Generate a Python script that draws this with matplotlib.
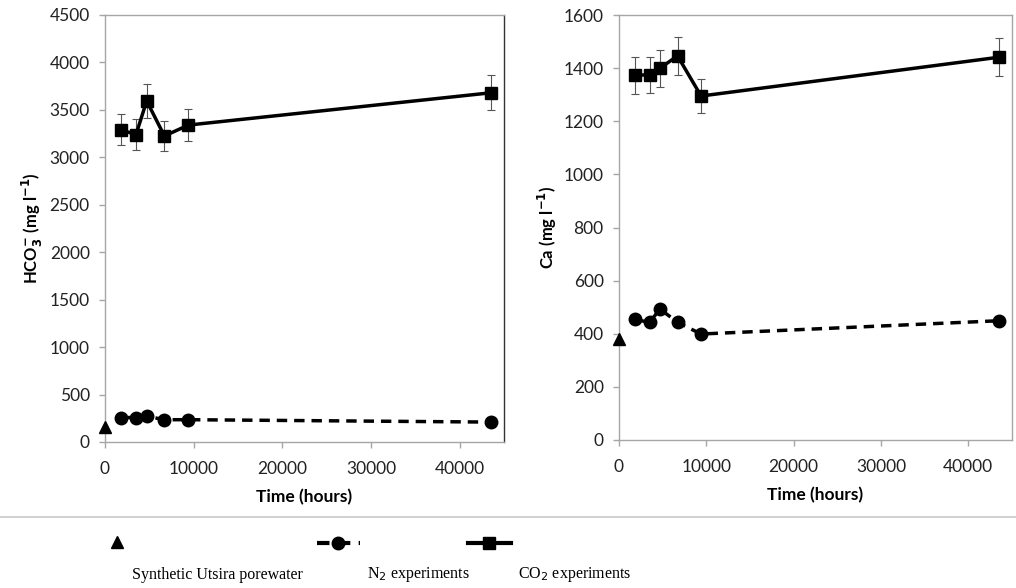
import numpy as np
import matplotlib.pyplot as plt
from matplotlib.lines import Line2D

# sampling times (hours)
hours = [1800, 3500, 4700, 6700, 9400, 43500]

# HCO3- (mg/l)
hco3_co2 = [3290, 3240, 3595, 3225, 3340, 3680]
hco3_n2 = [258, 258, 272, 235, 235, 210]
hco3_start = 160

# Ca (mg/l)
ca_co2 = [1373, 1375, 1400, 1446, 1295, 1441]
ca_n2 = [454, 443, 493, 443, 399, 449]
ca_start = 379

err_frac = 0.05

W, H = 1016, 588
fig = plt.figure(figsize=(W / 100, H / 100), dpi=100)
plt.rcParams['font.family'] = ['Lato', 'DejaVu Sans']

grey = '#a6a6a6'

def px_axes(left, top, right, bottom):
    return fig.add_axes([left / W, 1 - bottom / H, (right - left) / W, (bottom - top) / H])

def style(ax, ymax, ystep, ylabel):
    ax.set_xlim(0, 45000)
    ax.set_ylim(0, ymax)
    ax.set_xticks(np.arange(0, 45000, 10000))
    ax.set_yticks(np.arange(0, ymax + 1, ystep))
    for s in ax.spines.values():
        s.set_color(grey)
        s.set_linewidth(1.0)
    ax.tick_params(colors=grey, labelcolor='#222222', labelsize=12.5, length=4, width=1.0)
    ax.tick_params(axis='x', pad=10)
    ax.tick_params(axis='y', pad=7)
    ax.set_xlabel('Time (hours)', fontsize=12.5, fontweight='bold', labelpad=8)
    ax.set_ylabel(ylabel, fontsize=12, fontweight='bold', labelpad=3)

def draw(ax, co2, n2, start):
    co2 = np.array(co2)
    ax.errorbar(hours, co2, yerr=co2 * err_frac, fmt='none', ecolor='#555555',
                elinewidth=0.8, capsize=3, capthick=0.8, zorder=2)
    ax.plot(hours, co2, color='black', lw=2.5, marker='s', ms=9, zorder=3, clip_on=False)
    ax.plot(hours, n2, color='black', lw=2.5, ls=(0, (3, 2)), marker='o', ms=9, zorder=3, clip_on=False)
    ax.plot([0], [start], color='black', marker='^', ms=9, ls='none', zorder=4, clip_on=False)

ax1 = px_axes(105, 15, 504, 442)
draw(ax1, hco3_co2, hco3_n2, hco3_start)
style(ax1, 4500, 500, r'HCO$_\mathbf{3}^{\mathbf{-}}$ (mg l$^{\mathbf{-1}}$)')
ax1.spines['right'].set_color('#333333')

ax2 = px_axes(619, 15, 1012, 440)
draw(ax2, ca_co2, ca_n2, ca_start)
style(ax2, 1600, 200, r'Ca (mg l$^{\mathbf{-1}}$)')

# separator line and legend
fig.add_artist(Line2D([0, 1], [1 - 517 / H, 1 - 517 / H], color='#c8c8c8', lw=1.2))

lg = fig.add_axes([0, 0, 1, 1], facecolor='none')
lg.set_xlim(0, W)
lg.set_ylim(H, 0)
lg.axis('off')

serif = ['Liberation Serif', 'DejaVu Serif']
lg.plot([117], [542], marker='^', color='black', ms=9, ls='none')
lg.text(132, 575, 'Synthetic Utsira porewater', fontsize=11.5, family=serif, va='center')

lg.plot([317, 360], [543, 543], color='black', lw=3, ls=(0, (3, 2)))
lg.plot([338], [543], marker='o', color='black', ms=9)
lg.text(367, 575, r'N$_2$ experiments', fontsize=11.5, family=serif, va='center')

lg.plot([468, 511], [543, 543], color='black', lw=3)
lg.plot([489], [543], marker='s', color='black', ms=9)
lg.text(518, 575, r'CO$_2$ experiments', fontsize=11.5, family=serif, va='center')

fig.savefig('out.png', dpi=100)
